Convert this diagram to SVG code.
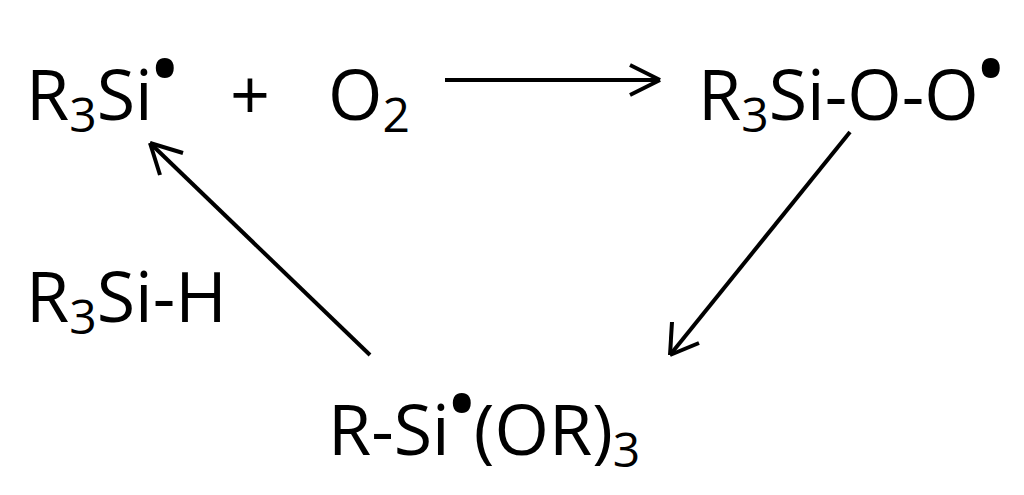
<svg xmlns="http://www.w3.org/2000/svg" width="1024" height="495" viewBox="0 0 1024 495">
<style>
text{font-family:"Open Sans","Liberation Sans",sans-serif;font-size:70px;fill:#000}
.s{font-size:48px}
.dot{font-size:64px;font-weight:bold}
.c line{stroke:#000;stroke-width:4;fill:none}
</style>
<rect width="1024" height="495" fill="#fff"/>
<g id="n1"><text x="26" y="120">R<tspan class="s" dy="12">3</tspan><tspan dy="-12">Si</tspan><tspan class="dot" dy="-28">•</tspan></text></g>
<g id="plus"><text x="230" y="120">+</text></g>
<g id="n2"><text x="328" y="120">O<tspan class="s" dy="12">2</tspan></text></g>
<g id="n3"><text x="698" y="120">R<tspan class="s" dy="12">3</tspan><tspan dy="-12">Si-O-O</tspan><tspan class="dot" dy="-28">•</tspan></text></g>
<g id="n4"><text x="26" y="322">R<tspan class="s" dy="12">3</tspan><tspan dy="-12">Si-H</tspan></text></g>
<g id="n5"><text x="328" y="455">R-Si<tspan class="dot" dy="-28">•</tspan><tspan dy="28">(OR)</tspan><tspan class="s" dy="12">3</tspan></text></g>
<g class="c" id="connectors">
<line x1="445" y1="80" x2="660" y2="80"/><line x1="630" y1="65" x2="660" y2="80"/><line x1="630" y1="95" x2="660" y2="80"/>
<line x1="850" y1="132" x2="670" y2="355"/><line x1="672" y1="322" x2="670" y2="355"/><line x1="699" y1="343" x2="670" y2="355"/>
<line x1="370" y1="355" x2="150" y2="143"/><line x1="183" y1="153" x2="150" y2="143"/><line x1="160" y1="175" x2="150" y2="143"/>
</g>
</svg>
